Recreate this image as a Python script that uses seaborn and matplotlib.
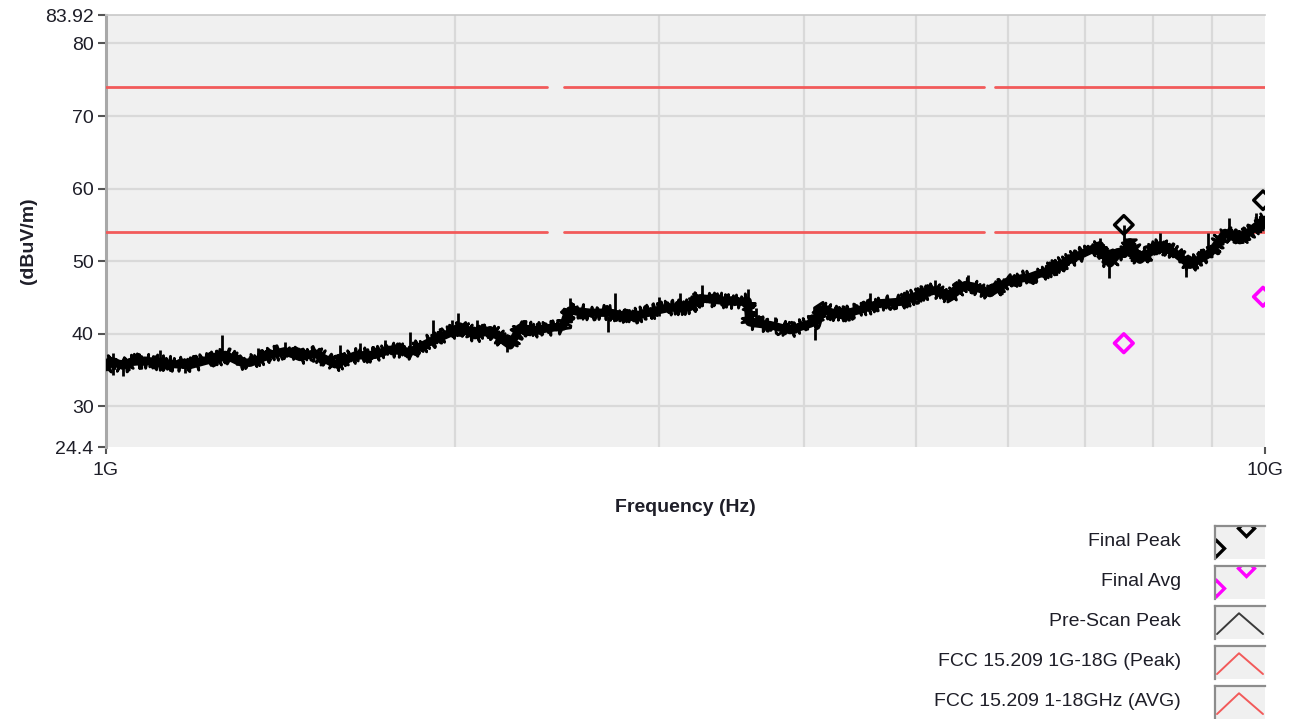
import numpy as np
import pandas as pd
import matplotlib
matplotlib.use("Agg")
import matplotlib.pyplot as plt
import seaborn as sns

# ---------------- data ----------------
# Pre-scan peak trace: frequency (GHz) and level (dBuV/m)
trace_freq = [1.000, 1.014, 1.034, 1.049, 1.080, 1.113, 1.150, 1.182, 1.220, 1.254, 1.267,
              1.305, 1.331, 1.385, 1.427, 1.470, 1.514, 1.576, 1.640, 1.707, 1.758,
              1.829, 1.904, 1.980, 2.020, 2.082, 2.145, 2.210, 2.232, 2.276, 2.345,
              2.440, 2.480, 2.495, 2.513, 2.616, 2.722, 2.833, 2.948, 3.066, 3.191,
              3.254, 3.387, 3.524, 3.578, 3.590, 3.610, 3.741, 3.893, 4.050, 4.110,
              4.131, 4.298, 4.473, 4.654, 4.843, 5.039, 5.192, 5.349, 5.511, 5.600,
              5.677, 5.790, 6.025, 6.269, 6.523, 6.787, 7.063, 7.204, 7.349, 7.496,
              7.560, 7.646, 7.800, 8.116, 8.364, 8.616, 8.967, 9.238, 9.515, 9.804, 10.000]
trace_level = [35.4, 36.2, 35.6, 36.1, 36.3, 36.0, 35.8, 35.7, 36.3, 36.7, 37.1,
               36.1, 36.0, 37.1, 37.6, 36.8, 37.3, 35.8, 37.0, 37.1, 37.8,
               37.5, 38.9, 40.1, 41.0, 39.8, 40.5, 38.9, 38.4, 40.8, 40.5,
               40.9, 41.0, 42.3, 43.2, 42.9, 42.9, 42.3, 43.0, 43.6, 43.7,
               44.9, 44.6, 44.4, 44.5, 41.6, 41.5, 41.2, 40.5, 41.4, 41.8,
               43.4, 42.6, 43.3, 44.2, 44.4, 45.4, 46.0, 45.1, 46.7, 46.5,
               46.2, 45.6, 47.4, 47.8, 48.8, 50.2, 51.5, 52.2, 49.7, 51.3,
               51.0, 52.6, 50.2, 52.2, 51.1, 49.5, 51.1, 53.9, 52.9, 54.7, 55.7]

# Noise spikes on the trace: frequency (GHz), low and high level (dBuV/m)
spike_freq = [1.014, 1.034, 1.113, 1.170, 1.259, 1.352, 1.427, 1.592, 1.657, 1.740,
              1.829, 1.914, 1.988, 2.012, 2.090, 2.218, 2.513, 2.710, 2.748, 3.000,
              3.129, 3.270, 3.580, 3.640, 3.780, 4.090, 4.560, 5.190, 5.540, 7.204,
              7.330, 7.550, 8.116, 8.540, 8.930, 9.310, 9.830]
spike_low = [34.3, 34.2, 35.8, 34.6, 36.5, 36.0, 37.0, 36.5, 37.0, 37.3,
             37.5, 38.5, 39.5, 40.5, 39.5, 37.5, 42.5, 40.3, 42.8, 42.5,
             43.0, 44.5, 44.3, 41.5, 41.0, 39.1, 43.5, 45.8, 46.3, 51.5,
             47.7, 50.6, 52.0, 47.8, 51.0, 53.5, 54.5]
spike_high = [37.3, 36.2, 37.8, 35.8, 39.8, 38.0, 38.9, 38.5, 38.7, 39.1,
              40.3, 41.9, 41.9, 42.9, 41.9, 38.9, 44.9, 42.5, 45.6, 45.1,
              45.6, 46.7, 46.2, 43.5, 42.3, 40.8, 45.6, 47.4, 48.1, 53.2,
              50.0, 55.0, 53.9, 49.8, 53.9, 56.0, 56.6]

# Final measurements
final_freq = [7.554, 9.96]
final_peak = [55.0, 58.4]
final_avg = [38.7, 45.1]

# FCC 15.209 limit segments (GHz) and levels
limit_start = [1.0, 2.4835, 5.85]
limit_stop = [2.4, 5.725, 10.0]
limit_peak = 74.0
limit_avg = 54.0

y_ticks = [24.4, 30, 40, 50, 60, 70, 80, 83.92]
y_tick_labels = ["24.4", "30", "40", "50", "60", "70", "80", "83.92"]
x_ticks = [1.0, 10.0]
x_tick_labels = ["1G", "10G"]
x_minor = [2, 3, 4, 5, 6, 7, 8, 9]

legend_labels = ["Final Peak", "Final Avg", "Pre-Scan Peak",
                 "FCC 15.209 1G-18G (Peak)", "FCC 15.209 1-18GHz (AVG)"]

# ---------------- style ----------------
sns.set_theme(style="white")
plt.rcParams["font.family"] = ["Liberation Sans", "DejaVu Sans"]
FS = 14
TXT = "#1e1e28"
RED = "#f25a5a"
MAG = "#ff00ff"
PLOTBG = "#f0f0f0"
GRID = "#d9d9d9"

W, H = 1292, 719
fig = plt.figure(figsize=(W / 100, H / 100), dpi=100)
fig.patch.set_facecolor("white")

def px_rect(x0, y0, x1, y1):
    return [x0 / W, 1 - y1 / H, (x1 - x0) / W, (y1 - y0) / H]

ax = fig.add_axes(px_rect(106, 15, 1265, 447))
ax.set_facecolor(PLOTBG)
ax.set_xscale("log")
ax.set_xlim(1.0, 10.0)
ax.set_ylim(24.4, 83.92)

# grid
for v in [30, 40, 50, 60, 70, 80]:
    ax.axhline(v, color=GRID, lw=1.6, zorder=1)
for v in x_minor:
    ax.axvline(v, color=GRID, lw=1.6, zorder=1)

# limit lines
for s, e in zip(limit_start, limit_stop):
    sns.lineplot(x=[s, e], y=[limit_peak, limit_peak], ax=ax, color=RED, lw=2.0,
                 zorder=3, legend=False)
    sns.lineplot(x=[s, e], y=[limit_avg, limit_avg], ax=ax, color=RED, lw=2.0,
                 zorder=3, legend=False)

# trace: solid core plus a sketched (jagged) outline for the noisy look
df = pd.DataFrame({"freq": trace_freq, "level": trace_level})
sns.lineplot(data=df, x="freq", y="level", ax=ax, color="black", lw=6.0,
             estimator=None, sort=False, zorder=4, legend=False)
n_before = len(ax.lines)
sns.lineplot(data=df, x="freq", y="level", ax=ax, color="black", lw=2.0,
             estimator=None, sort=False, zorder=4, legend=False)
for ln in ax.lines[n_before:]:
    ln.set_sketch_params(scale=7.5, length=1.2, randomness=4.0)
ax.vlines(spike_freq, spike_low, spike_high, color="black", lw=2.0, zorder=4)

# final markers
sns.scatterplot(x=final_freq, y=final_peak, ax=ax, marker="D", s=90,
                facecolor="none", edgecolor="black", linewidth=2.4, zorder=6,
                legend=False)
sns.scatterplot(x=final_freq, y=final_avg, ax=ax, marker="D", s=90,
                facecolor="none", edgecolor=MAG, linewidth=2.6, zorder=6,
                legend=False)
for c in ax.collections:
    c.set_clip_on(True)

# axes decoration
ax.set_yticks(y_ticks)
ax.set_yticklabels(y_tick_labels)
ax.set_xticks(x_ticks)
ax.set_xticklabels(x_tick_labels)
ax.xaxis.set_minor_locator(matplotlib.ticker.NullLocator())
ax.tick_params(axis="y", which="major", left=True, length=6, width=1.5,
               color="#555555", labelsize=FS, labelcolor=TXT, pad=3)
ax.tick_params(axis="x", which="major", bottom=True, length=5, width=1.5,
               color="#555555", labelsize=FS, labelcolor=TXT, pad=6)
ax.grid(False)
for side in ["right", "bottom"]:
    ax.spines[side].set_visible(False)
ax.spines["left"].set_color("#a8a8a8")
ax.spines["left"].set_linewidth(2.2)
ax.spines["top"].set_color("#c8c8c8")
ax.spines["top"].set_linewidth(1.2)
ax.set_xlabel("")
ax.set_ylabel("")

fig.text(685 / W, 1 - 507 / H, "Frequency (Hz)", ha="center", va="center",
         fontsize=FS, fontweight="bold", color=TXT)
fig.text(28 / W, 1 - 241 / H, "(dBuV/m)", ha="center", va="center",
         rotation=90, fontsize=FS, fontweight="bold", color=TXT)

# ---------------- legend ----------------
row_centers = [542, 582, 622, 662, 702]
for i, (lab, yc) in enumerate(zip(legend_labels, row_centers)):
    fig.text(1181 / W, 1 - yc / H, lab, ha="right", va="center",
             fontsize=FS, color=TXT)
    iax = fig.add_axes(px_rect(1215, yc - 16, 1265, yc + 17))
    iax.set_facecolor(PLOTBG)
    iax.set_xlim(0, 1)
    iax.set_ylim(0, 1)
    iax.set_xticks([])
    iax.set_yticks([])
    for side in ["bottom", "right"]:
        iax.spines[side].set_visible(False)
    for side in ["top", "left"]:
        iax.spines[side].set_color("#8c8c8c")
        iax.spines[side].set_linewidth(1.6)
    if i < 2:
        col = "black" if i == 0 else MAG
        iax.plot([0.02, 0.62], [0.32, 0.95], ls="none", marker="D", ms=8,
                 mfc="none", mec=col, mew=2.4, clip_on=True)
    else:
        col = "#3a3a3a" if i == 2 else RED
        iax.plot([0.04, 0.48, 0.96], [0.15, 0.78, 0.15], color=col, lw=1.4)

fig.savefig("out.png", dpi=100, facecolor="white")
